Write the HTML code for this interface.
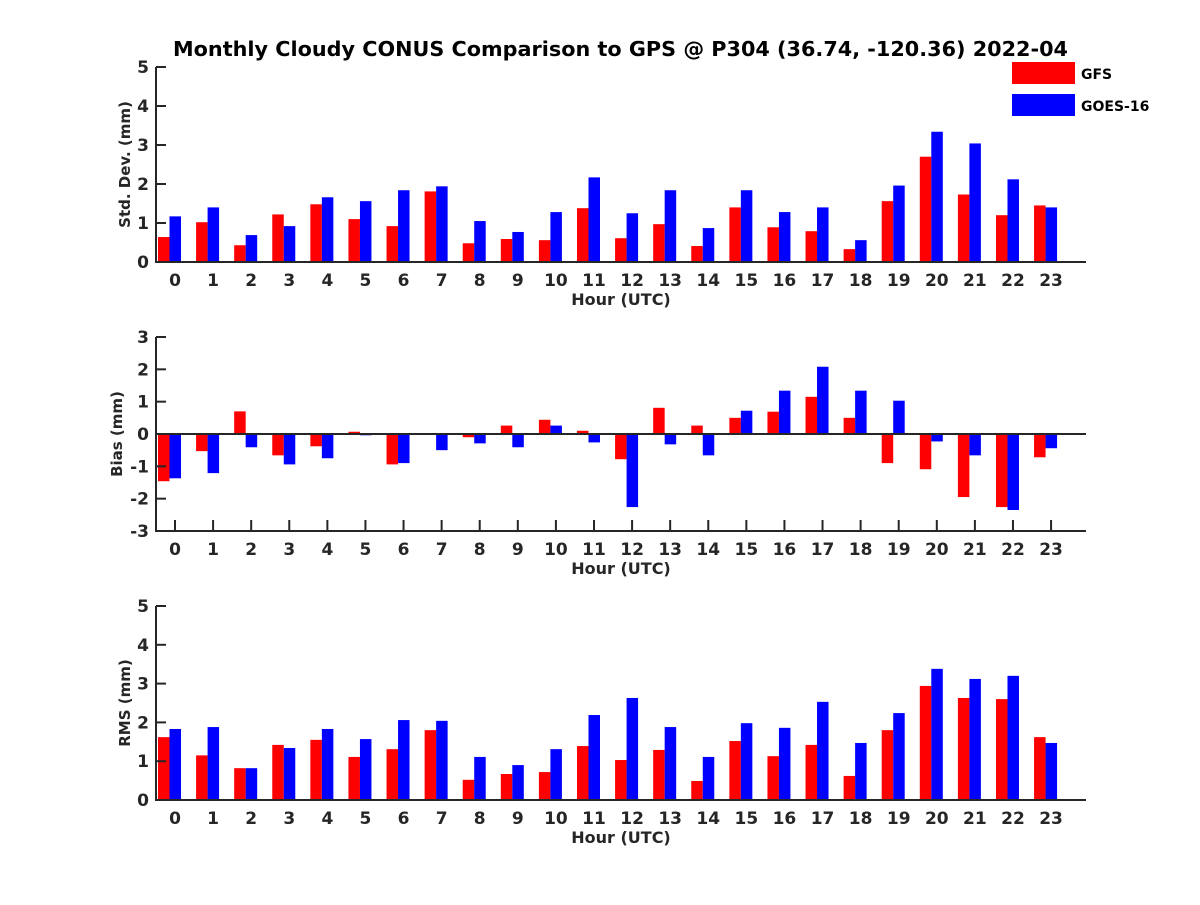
<!DOCTYPE html>
<html><head><meta charset="utf-8"><style>
body{margin:0;background:#fff;width:1200px;height:900px;overflow:hidden}
svg text{font-family:"DejaVu Sans","Liberation Sans",sans-serif;font-weight:bold;fill:#262626}
</style></head><body>
<svg id="chart" width="1200" height="900" xmlns="http://www.w3.org/2000/svg">
<rect width="1200" height="900" fill="#fff"/>
<text x="173" y="56" font-size="20" textLength="895" lengthAdjust="spacingAndGlyphs" style="fill:#000">Monthly Cloudy CONUS Comparison to GPS @ P304 (36.74, -120.36) 2022-04</text>
<g>
<rect x="1012" y="62" width="63" height="22" fill="#ff0000"/>
<text x="1081" y="79" font-size="14" style="fill:#000">GFS</text>
<rect x="1012" y="94" width="63" height="22" fill="#0000ff"/>
<text x="1081" y="111" font-size="14" style="fill:#000">GOES-16</text>
</g>
</svg>
<script>
const hours = [0,1,2,3,4,5,6,7,8,9,10,11,12,13,14,15,16,17,18,19,20,21,22,23];
const stdGFS  = [0.64,1.02,0.43,1.22,1.48,1.10,0.92,1.81,0.48,0.59,0.56,1.38,0.61,0.97,0.41,1.40,0.89,0.79,0.33,1.56,2.70,1.73,1.20,1.45];
const stdGOES = [1.17,1.40,0.69,0.92,1.66,1.56,1.84,1.94,1.05,0.77,1.28,2.17,1.25,1.84,0.87,1.84,1.28,1.40,0.56,1.96,3.34,3.04,2.12,1.40];
const biasGFS  = [-1.46,-0.53,0.70,-0.66,-0.38,0.07,-0.94,0,-0.10,0.26,0.44,0.10,-0.78,0.81,0.26,0.50,0.69,1.15,0.50,-0.90,-1.09,-1.95,-2.26,-0.72];
const biasGOES = [-1.37,-1.21,-0.41,-0.94,-0.75,-0.04,-0.90,-0.50,-0.29,-0.41,0.26,-0.26,-2.26,-0.32,-0.66,0.72,1.34,2.08,1.34,1.03,-0.23,-0.66,-2.35,-0.44];
const rmsGFS  = [1.62,1.15,0.82,1.42,1.55,1.11,1.31,1.80,0.52,0.67,0.72,1.39,1.03,1.29,0.49,1.52,1.13,1.42,0.62,1.80,2.94,2.63,2.60,1.62];
const rmsGOES = [1.83,1.88,0.82,1.34,1.83,1.57,2.06,2.04,1.11,0.90,1.31,2.19,2.63,1.88,1.11,1.98,1.86,2.53,1.47,2.24,3.38,3.12,3.20,1.47];
const stdTicks = [0,1,2,3,4,5];
const biasTicks = [-3,-2,-1,0,1,2,3];
const rmsTicks = [0,1,2,3,4,5];

const svg = document.getElementById('chart');
const NS = 'http://www.w3.org/2000/svg';
function mk(tag, attrs, parent){const e=document.createElementNS(NS,tag);for(const k in attrs)e.setAttribute(k,attrs[k]);(parent||svg).appendChild(e);return e;}
const X0=156, X1=1086, STEP=38.09;
function xTick(i){return 175+STEP*i;}

function panel(name, top, bottom, ymin, ymax, ticks, a, b, ylabel, ylabX, xticks){
  const g = mk('g',{});
  
  
  const y = v => bottom - (v-ymin)/(ymax-ymin)*(bottom-top);
  const zero = y(Math.max(ymin,0));
  hours.forEach((h,i)=>{
    const c = xTick(i)-5.5;
    const v1=a[i], v2=b[i];
    const r = mk('rect',{x:c-11.5,y:Math.min(y(v1),zero),width:11.5,height:Math.abs(y(v1)-zero),fill:'#ff0000'},g);
    
    
    const r2 = mk('rect',{x:c,y:Math.min(y(v2),zero),width:11.5,height:Math.abs(y(v2)-zero),fill:'#0000ff'},g);
    
    
    const t = mk('text',{x:xTick(i),y:bottom+24,'font-size':17,'text-anchor':'middle'},g);
    t.textContent=h;
    
    
    if(xticks){mk('line',{x1:xTick(i),x2:xTick(i),y1:bottom,y2:bottom-11,stroke:'#262626','stroke-width':2},g);}
  });
  const ax = mk('path',{d:`M${X0} ${top}V${bottom}H${X1}`,fill:'none',stroke:'#262626','stroke-width':2},g);
  
  
  if(ymin<0){const zl=mk('line',{x1:X0,x2:X1,y1:zero,y2:zero,stroke:'#262626','stroke-width':2},g);
    
    }
  ticks.forEach(v=>{
    mk('line',{x1:X0,x2:X0+10,y1:y(v),y2:y(v),stroke:'#262626','stroke-width':2},g);
    const t = mk('text',{x:149,y:y(v)+6,'font-size':17,'text-anchor':'end'},g);
    t.textContent=v;
    
    
  });
  const xl = mk('text',{x:621,y:bottom+43,'font-size':16,'text-anchor':'middle'},g);
  xl.textContent='Hour (UTC)';
  
  
  const cy=(top+bottom)/2;
  const yl = mk('text',{x:ylabX,y:cy,'font-size':15,'text-anchor':'middle',transform:`rotate(-90 ${ylabX} ${cy})`},g);
  yl.textContent=ylabel;
  
  
}
panel('std',67,262,0,5,stdTicks,stdGFS,stdGOES,'Std. Dev. (mm)',130,false);
panel('bias',337,531,-3,3,biasTicks,biasGFS,biasGOES,'Bias (mm)',122,true);
panel('rms',606,800,0,5,rmsTicks,rmsGFS,rmsGOES,'RMS (mm)',130,false);
</script>
</body></html>
